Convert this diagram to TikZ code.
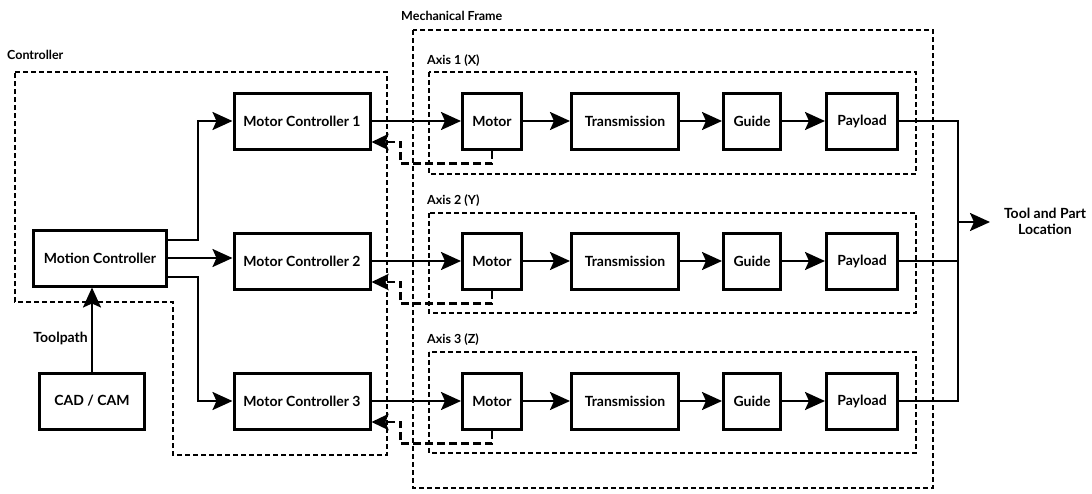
\documentclass[tikz,border=0pt]{standalone}
\usepackage{fontspec}
\setmainfont{Lato}
\usetikzlibrary{arrows.meta,calc}
\begin{document}
\begin{tikzpicture}[x=1pt,y=-1pt,
  every node/.style={font=\bfseries\fontsize{14}{16}\selectfont, inner sep=0pt},
  blk/.style={draw, line width=3pt, minimum height=56pt, align=center},
  arr/.style={line width=2.4pt, -{Stealth[length=20pt,width=18pt,inset=4pt]}},
  ln/.style={line width=2.4pt},
  fb/.style={line width=2.8pt, dash pattern=on 8pt off 4pt, -{Stealth[length=17pt,width=16pt,inset=3pt]}},
  grp/.style={line width=2.4pt, dash pattern=on 5pt off 3pt},
  lbl/.style={anchor=west, font=\bfseries\fontsize{12.5}{14}\selectfont}]
\useasboundingbox (0,0) rectangle (1092,493);

% groups
\draw[grp] (15,72) -- (387,72) -- (387,455) -- (173,455) -- (173,302) -- (15,302) -- cycle;
\node[lbl] (lctrl) at (7,55) {Controller};
\draw[grp] (413,30) rectangle (933,488);
\node[lbl] (lmech) at (401,16) {Mechanical Frame};
\draw[grp] (429,72) rectangle (916,174);
\node[lbl] (la1) at (427,61) {Axis 1 (X)};
\draw[grp] (429,213) rectangle (916,313);
\node[lbl] (la2) at (427,201) {Axis 2 (Y)};
\draw[grp] (429,352) rectangle (916,453);
\node[lbl] (la3) at (427,340) {Axis 3 (Z)};

% blocks
\node[blk, minimum width=133pt] (mc) at (100,258) {Motion Controller};
\node[blk, minimum width=105pt] (cad) at (92,401) {CAD / CAM};
\foreach \i/\y in {1/121,2/261,3/401}{
  \node[blk, minimum width=136pt] (m\i) at (302,\y) {Motor Controller \i};
  \node[blk, minimum width=59pt] (mot\i) at (492,\y) {Motor};
  \node[blk, minimum width=107pt] (tr\i) at (625,\y) {Transmission};
  \node[blk, minimum width=57pt] (gd\i) at (752,\y) {Guide};
  \node[blk, minimum width=71pt] (pl\i) at (862,\y) {Payload};
  \draw[arr] (m\i.east) -- (mot\i.west);
  \draw[arr] (mot\i.east) -- (tr\i.west);
  \draw[arr] (tr\i.east) -- (gd\i.west);
  \draw[arr] (gd\i.east) -- (pl\i.west);
  \draw[fb] (mot\i.south) -- ++(0,13) -| ([xshift=29pt,yshift=-21pt]m\i.east) -- ([yshift=-21pt]m\i.east);
}

% motion controller to motor controllers
\draw[arr] ([yshift=18pt]mc.east) -| (198,121) -- (m1.west);
\draw[arr] (mc.east) -- (m2.west |- mc.east);
\draw[arr] ([yshift=-19pt]mc.east) -| (198,401) -- (m3.west);

% toolpath
\draw[arr] (cad.north) -- (cad.north |- mc.south);
\node[anchor=east] (tp) at (88,338) {Toolpath};

% output
\coordinate (j1) at (958,121);
\coordinate (j3) at (958,401);
\coordinate (jo) at (958,222);
\draw[ln] (pl1.east) -- (j1) -- (j3) -- (pl3.east);
\draw[ln] (pl2.east) -- (pl2.east -| j1);
\node[align=center] (out) at (1045,221) {Tool and Part\\Location};
\draw[arr] (jo) -- ++(32,0);
\end{tikzpicture}
\end{document}
